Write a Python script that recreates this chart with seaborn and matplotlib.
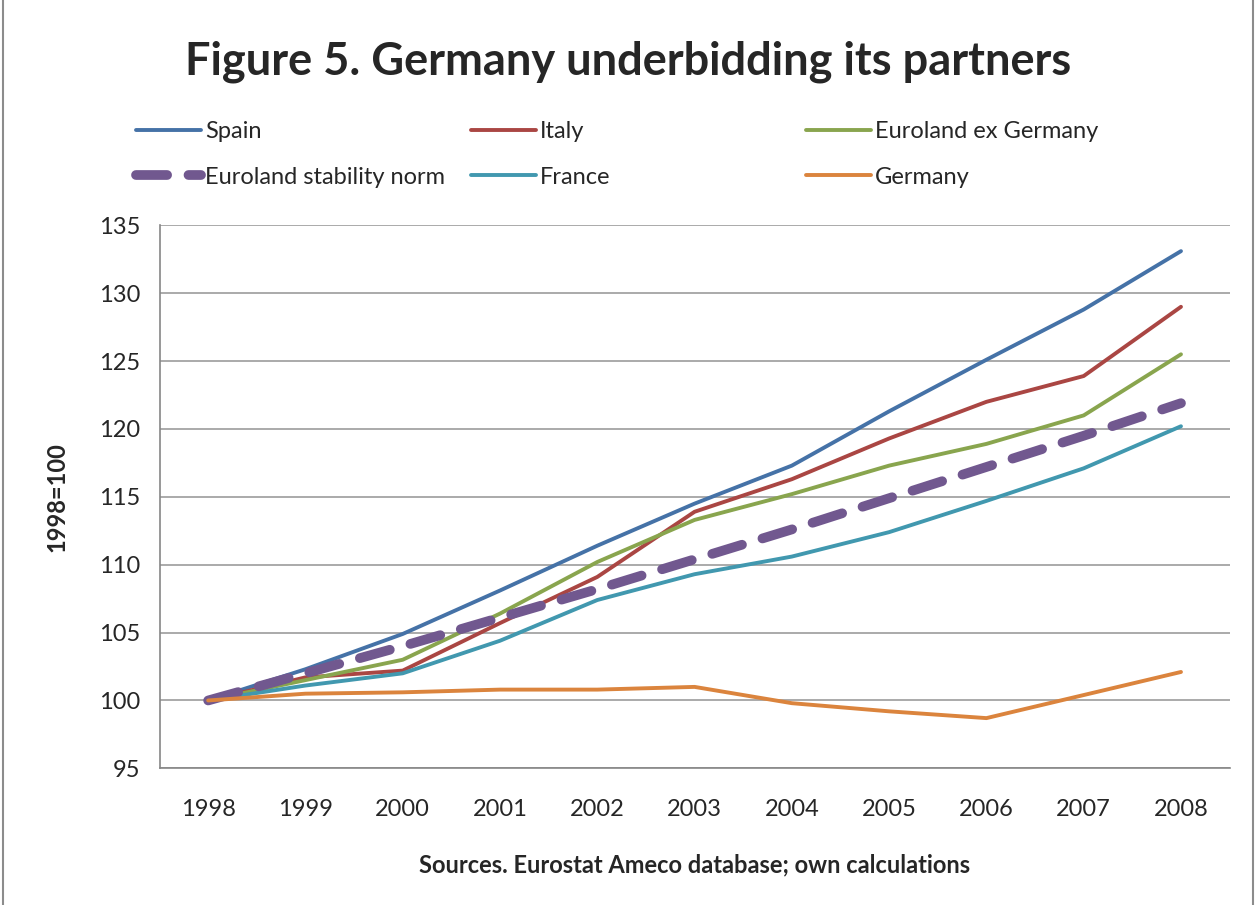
import matplotlib
matplotlib.use("Agg")
import matplotlib.pyplot as plt
import seaborn as sns
import pandas as pd
from matplotlib.ticker import MultipleLocator

# Data (1998=100)
years = [1998, 1999, 2000, 2001, 2002, 2003, 2004, 2005, 2006, 2007, 2008]
spain = [100.0, 102.3, 104.9, 108.1, 111.4, 114.5, 117.3, 121.3, 125.1, 128.8, 133.1]
italy = [100.0, 101.7, 102.2, 105.7, 109.1, 113.9, 116.3, 119.3, 122.0, 123.9, 129.0]
euro_ex_de = [100.0, 101.5, 103.0, 106.4, 110.2, 113.3, 115.2, 117.3, 118.9, 121.0, 125.5]
stability = [100.0, 102.0, 104.0, 106.1, 108.2, 110.4, 112.6, 114.9, 117.2, 119.5, 121.9]
france = [100.0, 101.1, 102.0, 104.4, 107.4, 109.3, 110.6, 112.4, 114.7, 117.1, 120.2]
germany = [100.0, 100.5, 100.6, 100.8, 100.8, 101.0, 99.8, 99.2, 98.7, 100.4, 102.1]

series = {
    "Spain": spain,
    "Italy": italy,
    "Euroland ex Germany": euro_ex_de,
    "Euroland stability norm": stability,
    "France": france,
    "Germany": germany,
}
colors = {
    "Spain": "#4572A7",
    "Italy": "#AA4643",
    "Euroland ex Germany": "#89A54E",
    "Euroland stability norm": "#71588F",
    "France": "#4198AF",
    "Germany": "#DB843D",
}

df = pd.DataFrame(series, index=years).reset_index(names="year")
long = df.melt(id_vars="year", var_name="series", value_name="value")

sns.set_style("white")
plt.rcParams["font.family"] = ["Lato", "DejaVu Sans"]

fs = 17

fig = plt.figure(figsize=(12.56, 9.05), dpi=100)
ax = fig.add_axes([0.127, 0.151, 0.852, 0.600])

handles = {}
for name in series:
    sub = long[long["series"] == name]
    if name == "Euroland stability norm":
        sns.lineplot(data=sub, x="year", y="value", ax=ax, color=colors[name],
                     lw=7, zorder=3)
        line = ax.lines[-1]
        line.set_dashes([3.2, 2.2])
        line.set_dash_capstyle("round")
        line.set_solid_capstyle("round")
    else:
        sns.lineplot(data=sub, x="year", y="value", ax=ax, color=colors[name],
                     lw=2.8, zorder=2 if name != "Germany" else 4)
        line = ax.lines[-1]
    handles[name] = line

ax.set_xlim(1997.5, 2008.5)
ax.set_ylim(95, 135)
ax.yaxis.set_major_locator(MultipleLocator(5))
ax.set_xticks(years)
ax.set_xticks([y - 0.5 for y in years] + [2008.5], minor=True)
ax.tick_params(axis="x", which="major", length=0, labelsize=fs, pad=22)
ax.tick_params(axis="x", which="minor", length=8, color="#868686", width=1)
ax.tick_params(axis="y", which="major", length=6, color="#868686", width=1,
               labelsize=fs, pad=8)
ax.grid(axis="y", color="#9c9c9c", lw=1.2)
for side in ["top", "right"]:
    ax.spines[side].set_visible(False)
for side in ["left", "bottom"]:
    ax.spines[side].set_color("#868686")
    ax.spines[side].set_linewidth(1.2)

ax.set_xlabel("Sources. Eurostat Ameco database; own calculations",
              fontsize=fs, fontweight="bold", labelpad=24)
ax.set_ylabel("1998=100", fontsize=fs, fontweight="bold", labelpad=22)

fig.suptitle("Figure 5. Germany underbidding its partners", fontsize=32.5,
             fontweight="bold", y=0.955)

# legend: three fixed-width columns, two rows
columns = [["Spain", "Euroland stability norm"],
           ["Italy", "France"],
           ["Euroland ex Germany", "Germany"]]
col_x = [0.0916, 0.3583, 0.625]
for names, x in zip(columns, col_x):
    fig.legend([handles[n] for n in names], names, loc="upper left",
               bbox_to_anchor=(x, 0.89), frameon=False, fontsize=fs,
               handlelength=2.75, handletextpad=0.15, labelspacing=1.05)

# grey frame like the original chart border
fig.patches.append(plt.Rectangle((0.002, -0.01), 0.996, 1.02, transform=fig.transFigure,
                                 fill=False, edgecolor="#8c8c8c", lw=1.5))

fig.savefig("out.png", dpi=100)
